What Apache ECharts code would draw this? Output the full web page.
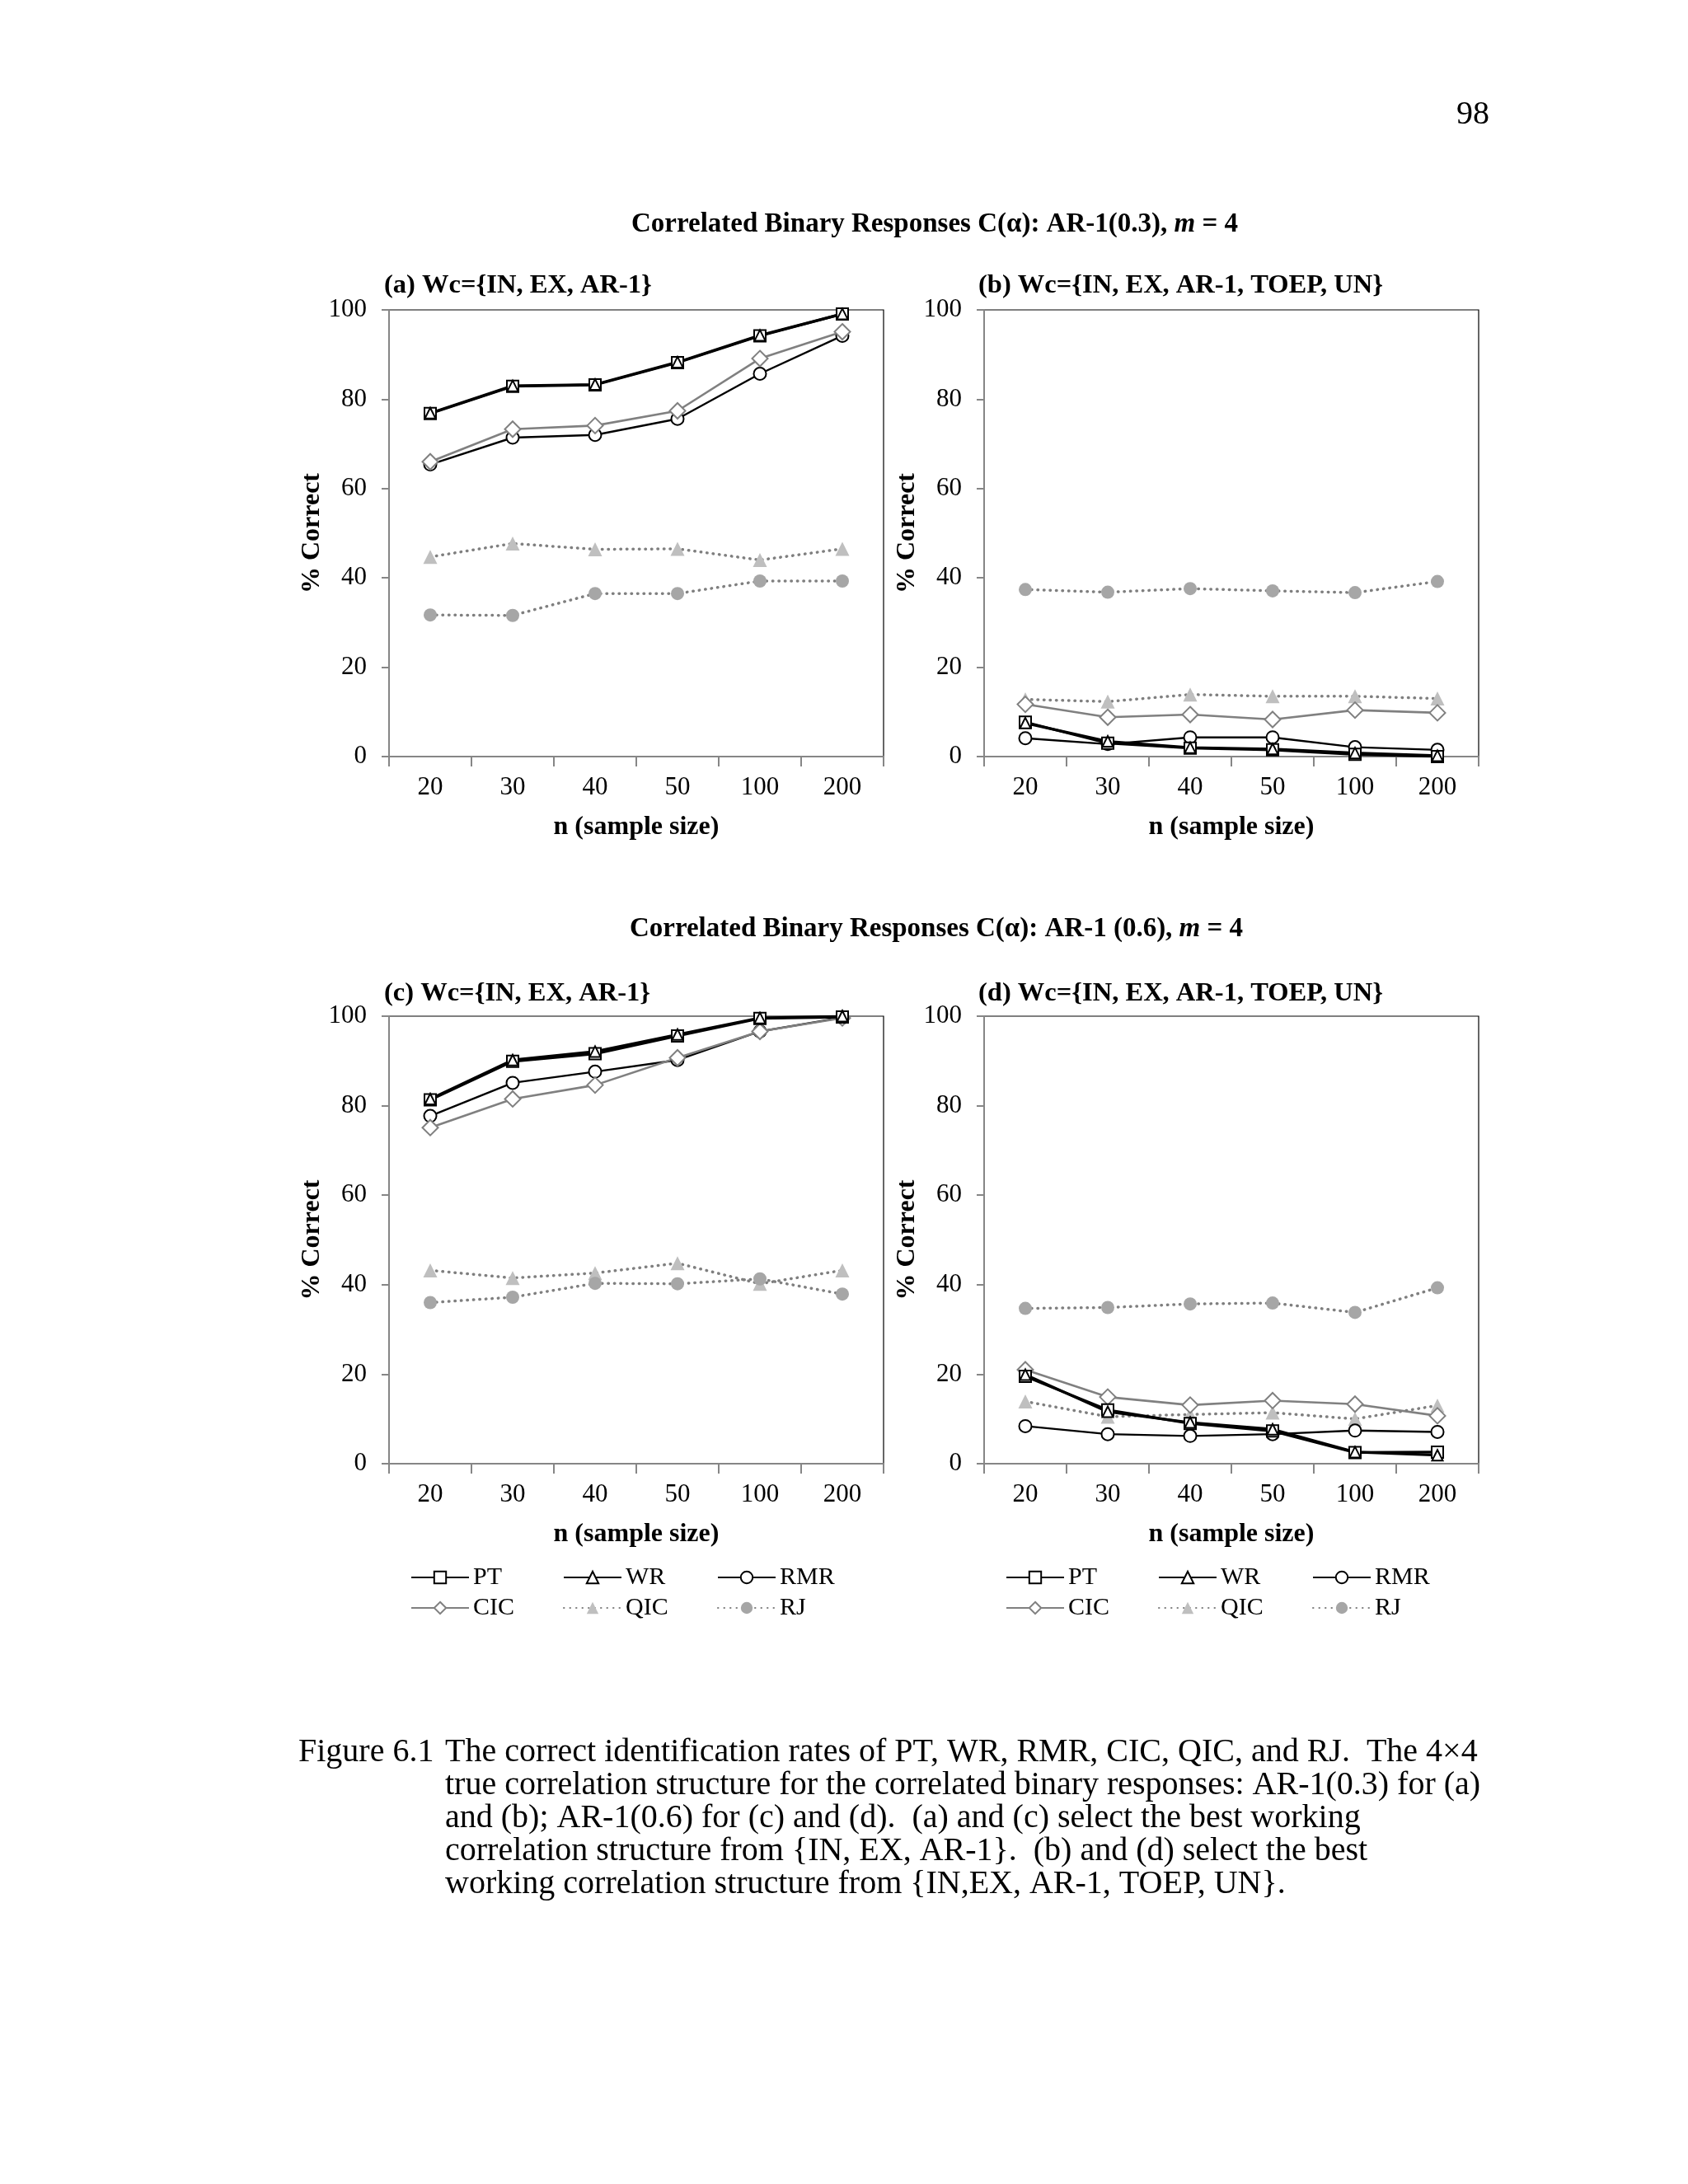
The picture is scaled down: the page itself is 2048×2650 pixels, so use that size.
<!DOCTYPE html>
<html>
<head>
<meta charset="utf-8">
<script src="https://cdn.jsdelivr.net/npm/echarts@6/dist/echarts.min.js"></script>
<style>
html,body{margin:0;padding:0;background:#fff;}
#chart{width:2048px;height:2650px;}
</style>
</head>
<body>
<div id="chart"></div>
<script>
// ---------- DATA ----------
const categories = ['20', '30', '40', '50', '100', '200'];
const methodNames = ['PT', 'WR', 'RMR', 'CIC', 'QIC', 'RJ'];
const yTicks = [0, 20, 40, 60, 80, 100];

// (a) AR-1(0.3), Wc={IN, EX, AR-1}
const a_PT  = [76.8, 82.9, 83.2, 88.2, 94.2, 99.1];
const a_WR  = [76.9, 83.0, 83.3, 88.3, 94.3, 99.1];
const a_RMR = [65.4, 71.4, 72.0, 75.6, 85.7, 94.2];
const a_CIC = [66.0, 73.3, 74.1, 77.4, 89.1, 95.1];
const a_QIC = [44.7, 47.7, 46.4, 46.5, 44.0, 46.5];
const a_RJ  = [31.7, 31.6, 36.5, 36.5, 39.3, 39.3];

// (b) AR-1(0.3), Wc={IN, EX, AR-1, TOEP, UN}
const b_PT  = [7.7, 3.0, 1.9, 1.5, 0.5, 0.0];
const b_WR  = [7.5, 3.4, 2.0, 1.7, 0.8, 0.2];
const b_RMR = [4.1, 2.8, 4.3, 4.3, 2.1, 1.5];
const b_CIC = [11.7, 8.8, 9.4, 8.3, 10.4, 9.8];
const b_QIC = [12.8, 12.3, 13.9, 13.5, 13.5, 13.0];
const b_RJ  = [37.4, 36.8, 37.6, 37.1, 36.7, 39.2];

// (c) AR-1(0.6), Wc={IN, EX, AR-1}
const c_PT  = [81.3, 89.9, 91.6, 95.6, 99.5, 99.8];
const c_WR  = [81.5, 90.2, 92.1, 95.9, 99.6, 100];
const c_RMR = [77.7, 85.1, 87.6, 90.2, 96.6, 99.7];
const c_CIC = [75.1, 81.5, 84.6, 90.7, 96.6, 99.6];
const c_QIC = [43.2, 41.5, 42.6, 44.8, 40.2, 43.2];
const c_RJ  = [36.0, 37.2, 40.3, 40.2, 41.3, 37.9];

// (d) AR-1(0.6), Wc={IN, EX, AR-1, TOEP, UN}
const d_PT  = [19.5, 12.0, 9.0, 7.3, 2.5, 2.6];
const d_WR  = [19.9, 11.6, 9.2, 7.7, 2.6, 1.9];
const d_RMR = [8.4, 6.6, 6.2, 6.6, 7.4, 7.1];
const d_CIC = [21.0, 14.9, 13.1, 14.1, 13.3, 10.7];
const d_QIC = [13.9, 10.5, 11.0, 11.4, 10.0, 13.0];
const d_RJ  = [34.7, 34.9, 35.7, 35.9, 33.8, 39.3];

const panelTitles = [
  '(a) Wc={IN, EX, AR-1}',
  '(b) Wc={IN, EX, AR-1, TOEP, UN}',
  '(c) Wc={IN, EX, AR-1}',
  '(d) Wc={IN, EX, AR-1, TOEP, UN}'
];
const mainTitle1 = 'Correlated Binary Responses C(α): AR-1(0.3), {i|m} = 4';
const mainTitle2 = 'Correlated Binary Responses C(α): AR-1 (0.6), {i|m} = 4';
const xAxisName = 'n (sample size)';
const yAxisName = '% Correct';
const pageNumber = '98';
const captionLead = 'Figure 6.1';
const captionLines = [
  'The correct identification rates of PT, WR, RMR, CIC, QIC, and RJ.  The 4\u00d74',
  'true correlation structure for the correlated binary responses: AR-1(0.3) for (a)',
  'and (b); AR-1(0.6) for (c) and (d).  (a) and (c) select the best working',
  'correlation structure from {IN, EX, AR-1}.  (b) and (d) select the best',
  'working correlation structure from {IN,EX, AR-1, TOEP, UN}.'
];

// ---------- LAYOUT / STYLE ----------
const FONT = '"Liberation Serif", "Times New Roman", serif';
const panelData = [
  [a_PT, a_WR, a_RMR, a_CIC, a_QIC, a_RJ],
  [b_PT, b_WR, b_RMR, b_CIC, b_QIC, b_RJ],
  [c_PT, c_WR, c_RMR, c_CIC, c_QIC, c_RJ],
  [d_PT, d_WR, d_RMR, d_CIC, d_QIC, d_RJ]
];
const grids = [
  {left: 472, top: 376, width: 600, height: 542},
  {left: 1194, top: 376, width: 600, height: 542},
  {left: 472, top: 1233, width: 600, height: 543},
  {left: 1194, top: 1233, width: 600, height: 543}
];
const titlePos = [[466, 347], [1187, 347], [466, 1206], [1187, 1206]];

const styles = {
  PT:  {symbol: 'rect', size: 14, line: {color: '#000', width: 3.2, type: 'solid'}, item: {color: '#fff', borderColor: '#000', borderWidth: 2}, z: 5},
  WR:  {symbol: 'triangle', size: 13, line: {color: '#000', width: 3.2, type: 'solid'}, item: {color: '#fff', borderColor: '#000', borderWidth: 2}, z: 5},
  RMR: {symbol: 'circle', size: 15, line: {color: '#000', width: 2.4, type: 'solid'}, item: {color: '#fff', borderColor: '#000', borderWidth: 2}, z: 4},
  CIC: {symbol: 'diamond', size: 19, line: {color: '#808080', width: 2.6, type: 'solid'}, item: {color: '#fff', borderColor: '#808080', borderWidth: 2}, z: 4},
  QIC: {symbol: 'triangle', size: 17, line: {color: '#7f7f7f', width: 3.5, type: [0.5, 7], cap: 'round'}, item: {color: '#bfbfbf', borderWidth: 0}, z: 3},
  RJ:  {symbol: 'circle', size: 16, line: {color: '#7f7f7f', width: 3.5, type: [0.5, 7], cap: 'round'}, item: {color: '#a6a6a6', borderWidth: 0}, z: 3}
};

const option = {
  animation: false,
  backgroundColor: '#fff',
  grid: grids.map(g => Object.assign({}, g, {show: true, borderColor: '#000', borderWidth: 1.2, backgroundColor: '#fff', containLabel: false})),
  xAxis: grids.map((g, i) => ({
    type: 'category', gridIndex: i, data: categories, boundaryGap: true,
    axisLine: {lineStyle: {color: '#868686', width: 2}},
    axisTick: {show: true, alignWithLabel: false, inside: false, length: 12, lineStyle: {color: '#868686', width: 2}},
    axisLabel: {color: '#000', fontFamily: FONT, fontSize: 31, margin: 22},
    splitLine: {show: false},
    name: xAxisName, nameLocation: 'middle', nameGap: 70,
    nameTextStyle: {color: '#000', fontFamily: FONT, fontSize: 32, fontWeight: 'bold'}
  })),
  yAxis: grids.map((g, i) => ({
    type: 'value', gridIndex: i, min: yTicks[0], max: yTicks[yTicks.length - 1], interval: yTicks[1] - yTicks[0],
    axisLine: {show: true, lineStyle: {color: '#868686', width: 2}},
    axisTick: {show: true, inside: false, length: 9, lineStyle: {color: '#868686', width: 2}},
    axisLabel: {color: '#000', fontFamily: FONT, fontSize: 31, margin: 27},
    splitLine: {show: false},
    name: yAxisName, nameLocation: 'middle', nameGap: 71, nameRotate: 90,
    nameTextStyle: {color: '#000', fontFamily: FONT, fontSize: 32, fontWeight: 'bold'}
  })),
  legend: [],
  series: [],
  graphic: []
};

panelData.forEach((arrs, gi) => {
  methodNames.forEach((name, si) => {
    const st = styles[name];
    option.series.push({
      type: 'line', name: name, xAxisIndex: gi, yAxisIndex: gi,
      data: arrs[si], symbol: st.symbol, symbolSize: st.size, showSymbol: true, showAllSymbol: true,
      lineStyle: st.line, itemStyle: st.item, z: st.z,
      emphasis: {disabled: true}, silent: true
    });
  });
});

// legends: three columns per bottom panel
const legendCols = [[['PT', 'CIC'], 498], [['WR', 'QIC'], 683], [['RMR', 'RJ'], 870],
                    [['PT', 'CIC'], 1220], [['WR', 'QIC'], 1405], [['RMR', 'RJ'], 1592]];
legendCols.forEach(([names, left]) => {
  option.legend.push({
    orient: 'vertical', left: left, top: 1899, padding: 0,
    itemWidth: 70, itemHeight: 18, itemGap: 7, selectedMode: false,
    data: names,
    textStyle: {color: '#000', fontFamily: FONT, fontSize: 30, lineHeight: 30, padding: [0, 0, 0, 0]}
  });
});

// text elements
panelTitles.forEach((t, i) => {
  option.graphic.push({type: 'text', x: titlePos[i][0], y: titlePos[i][1],
    style: {text: t, fontFamily: FONT, fontSize: 32.5, fontWeight: 'bold', fill: '#000', align: 'left', verticalAlign: 'middle'}});
});
const richI = {i: {fontFamily: FONT, fontSize: 33, fontWeight: 'bold', fontStyle: 'italic', fill: '#000'}};
option.graphic.push({type: 'text', x: 1134, y: 272,
  style: {text: mainTitle1, rich: richI, fontFamily: FONT, fontSize: 33, fontWeight: 'bold', fill: '#000', align: 'center', verticalAlign: 'middle'}});
option.graphic.push({type: 'text', x: 1136, y: 1127,
  style: {text: mainTitle2, rich: richI, fontFamily: FONT, fontSize: 33, fontWeight: 'bold', fill: '#000', align: 'center', verticalAlign: 'middle'}});
option.graphic.push({type: 'text', x: 1807, y: 139,
  style: {text: pageNumber, fontFamily: FONT, fontSize: 40, fill: '#000', align: 'right', verticalAlign: 'middle'}});
option.graphic.push({type: 'text', x: 362, y: 2106,
  style: {text: captionLead, fontFamily: FONT, fontSize: 40, lineHeight: 40, fill: '#000', align: 'left', verticalAlign: 'top'}});
option.graphic.push({type: 'text', x: 540, y: 2106,
  style: {text: captionLines.join('\n'), fontFamily: FONT, fontSize: 40, lineHeight: 40, fill: '#000', align: 'left', verticalAlign: 'top'}});

const chart = echarts.init(document.getElementById('chart'), null, {renderer: 'canvas'});
chart.setOption(option);
</script>
</body>
</html>
